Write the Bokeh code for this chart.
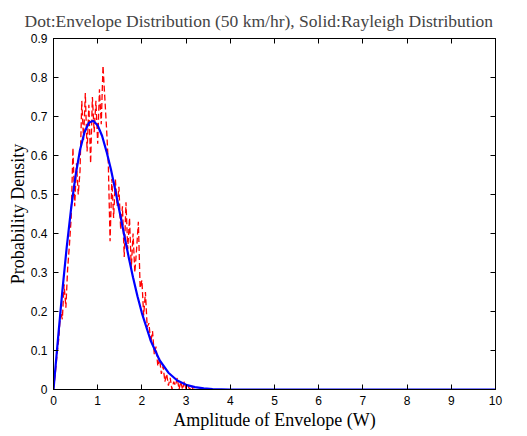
from bokeh.plotting import figure
from bokeh.models import LinearAxis, FixedTicker, CustomJSTickFormatter, Range1d
from bokeh.embed import file_html
from bokeh.resources import INLINE

# Rayleigh (solid) curve
ray_x = [0.0, 0.1, 0.2, 0.3, 0.4, 0.5, 0.6, 0.7, 0.8, 0.9, 1.0, 1.1, 1.2, 1.3, 1.4,
         1.5, 1.6, 1.7, 1.8, 1.9, 2.0, 2.2, 2.4, 2.6, 2.8, 3.0, 3.2, 3.4, 3.6, 4.0, 5.0, 10.0]
ray_y = [0.0, 0.128, 0.252, 0.366, 0.466, 0.549, 0.614, 0.659, 0.684, 0.689, 0.677,
         0.650, 0.610, 0.564, 0.510, 0.453, 0.396, 0.340, 0.287, 0.239, 0.196, 0.125,
         0.075, 0.043, 0.023, 0.012, 0.006, 0.003, 0.001, 0.0, 0.0, 0.0]

# Envelope distribution (dashed)
env_x = [0.00, 0.04, 0.08, 0.12, 0.16, 0.20, 0.24, 0.28, 0.32, 0.36, 0.40, 0.44, 0.48,
         0.52, 0.56, 0.60, 0.64, 0.68, 0.72, 0.76, 0.80, 0.84, 0.88, 0.92, 0.96, 1.00,
         1.04, 1.08, 1.12, 1.16, 1.20, 1.24, 1.28, 1.32, 1.36, 1.40, 1.44, 1.48, 1.52,
         1.56, 1.60, 1.64, 1.68, 1.72, 1.76, 1.80, 1.84, 1.88, 1.92, 1.96, 2.00, 2.04,
         2.08, 2.12, 2.16, 2.20, 2.24, 2.28, 2.32, 2.36, 2.40, 2.44, 2.48, 2.52, 2.56,
         2.60, 2.64, 2.68, 2.72, 2.76, 2.80, 2.84, 2.88, 2.92, 2.96, 3.00, 3.04, 3.08,
         3.12, 3.16, 3.20]
env_y = [0.00, 0.04, 0.09, 0.13, 0.20, 0.18, 0.27, 0.21, 0.31, 0.37, 0.44, 0.62, 0.47,
         0.58, 0.50, 0.56, 0.74, 0.64, 0.76, 0.61, 0.73, 0.58, 0.75, 0.66, 0.74, 0.63,
         0.77, 0.68, 0.83, 0.75, 0.67, 0.58, 0.38, 0.54, 0.44, 0.54, 0.47, 0.52, 0.41,
         0.47, 0.34, 0.48, 0.36, 0.44, 0.31, 0.40, 0.30, 0.36, 0.43, 0.26, 0.28, 0.19,
         0.25, 0.16, 0.17, 0.12, 0.15, 0.09, 0.11, 0.06, 0.08, 0.04, 0.06, 0.02, 0.04,
         0.01, 0.03, 0.00, 0.02, 0.01, 0.03, 0.00, 0.02, 0.00, 0.02, 0.00, 0.01, 0.00,
         0.01, 0.00, 0.00]

x_ticks = [0, 1, 2, 3, 4, 5, 6, 7, 8, 9, 10]
y_ticks = [0, 0.1, 0.2, 0.3, 0.4, 0.5, 0.6, 0.7, 0.8, 0.9]

title_text = "Dot:Envelope Distribution (50 km/hr), Solid:Rayleigh Distribution"
x_label = "Amplitude of Envelope (W)"
y_label = "Probability Density"

SERIF = "Liberation Serif"
SANS = "Liberation Sans"

p = figure(frame_width=442, frame_height=351, output_backend="svg", toolbar_location=None,
           x_range=Range1d(0, 10), y_range=Range1d(0, 0.9),
           min_border_left=53, min_border_right=20, min_border_top=38, min_border_bottom=5,
           title=title_text)
p.title.text_font = SERIF
p.title.text_font_size = "17.5px"
p.title.text_font_style = "normal"
p.title.align = "left"
p.title.offset = -29
p.title.standoff = 16

p.background_fill_color = "white"
p.border_fill_color = "white"
p.outline_line_color = "black"
p.outline_line_width = 1
p.xgrid.visible = False
p.ygrid.visible = False

fmt = CustomJSTickFormatter(code="return Number(tick.toFixed(1)).toString();")

for ax in p.xaxis:
    ax.ticker = FixedTicker(ticks=x_ticks)
    ax.formatter = fmt
for ax in p.yaxis:
    ax.ticker = FixedTicker(ticks=y_ticks)
    ax.formatter = fmt

for ax in list(p.xaxis) + list(p.yaxis):
    ax.major_tick_in = 5
    ax.major_tick_out = 0
    ax.minor_tick_line_color = None
    ax.axis_line_color = "black"
    ax.major_tick_line_color = "black"
    ax.major_label_text_font = SANS
    ax.major_label_text_font_size = "12px"
    ax.major_label_text_color = "black"
    ax.major_label_standoff = 6
    ax.axis_label_text_font = SERIF
    ax.axis_label_text_font_size = "18px"
    ax.axis_label_text_font_style = "normal"
    ax.axis_label_text_color = "black"
    ax.axis_label_standoff = 2

p.yaxis.axis_label_standoff = 0
p.xaxis.axis_label = x_label
p.yaxis.axis_label = y_label

# ticks on top and right (box style), labels hidden
top = LinearAxis(ticker=FixedTicker(ticks=x_ticks), major_tick_in=5, major_tick_out=0,
                 minor_tick_line_color=None, major_label_text_font_size="1px",
                 major_label_text_color=None,
                 major_label_standoff=0, axis_line_color="black")
right = LinearAxis(ticker=FixedTicker(ticks=y_ticks), major_tick_in=5, major_tick_out=0,
                   minor_tick_line_color=None, major_label_text_font_size="1px",
                   major_label_text_color=None,
                   major_label_standoff=0, axis_line_color="black")
p.add_layout(top, "above")
p.add_layout(right, "right")

p.line(env_x, env_y, line_color="#ff0000", line_width=1.3, line_dash="6 3")
p.line(ray_x, ray_y, line_color="#0000ff", line_width=2.2)

open("out.html", "w").write(file_html(p, INLINE))
